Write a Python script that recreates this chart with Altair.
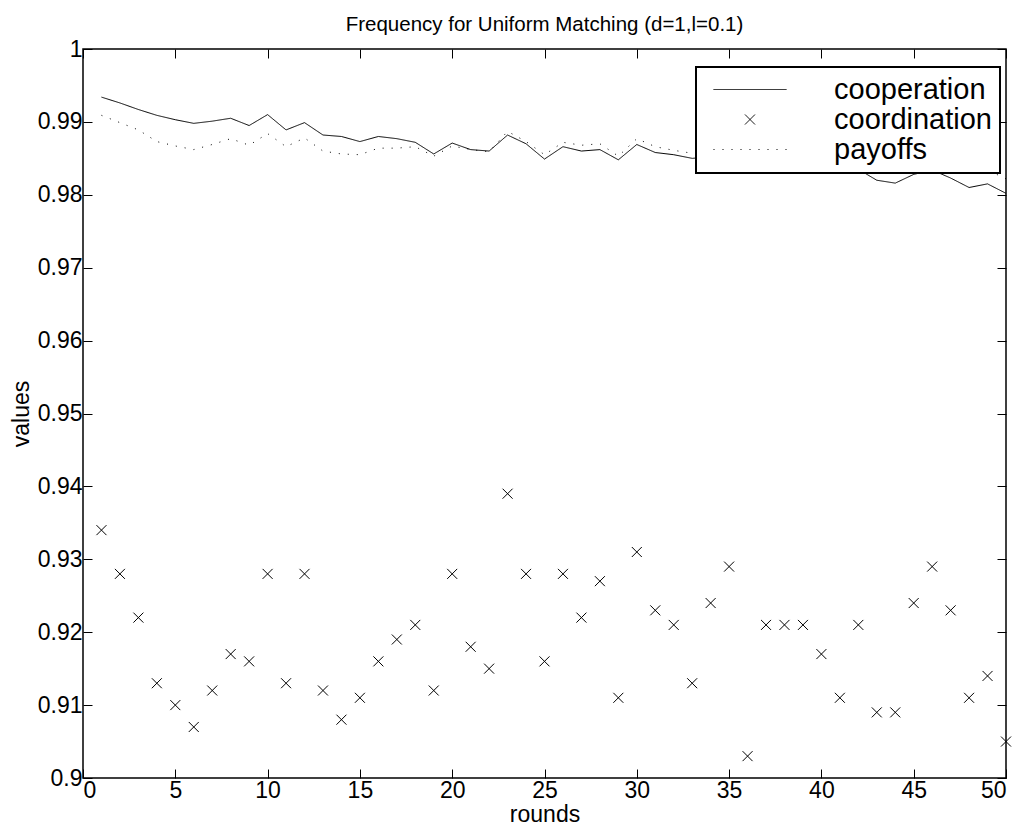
import altair as alt
import pandas as pd

rounds = list(range(1, 51))
cooperation = [
    0.9934, 0.9926, 0.9917, 0.9909, 0.9903, 0.9898, 0.9901, 0.9905, 0.9895, 0.9910,
    0.9889, 0.9899, 0.9882, 0.9880, 0.9873, 0.9880, 0.9877, 0.9872, 0.9856, 0.9871,
    0.9862, 0.9860, 0.9882, 0.9870, 0.9849, 0.9866, 0.9860, 0.9862, 0.9848, 0.9869,
    0.9858, 0.9855, 0.9850, 0.9852, 0.9848, 0.9850, 0.9844, 0.9846, 0.9840, 0.9842,
    0.9838, 0.9835, 0.9820, 0.9816, 0.9828, 0.9834, 0.9823, 0.9810, 0.9815, 0.9802,
]
coordination = [
    0.934, 0.928, 0.922, 0.913, 0.910, 0.907, 0.912, 0.917, 0.916, 0.928,
    0.913, 0.928, 0.912, 0.908, 0.911, 0.916, 0.919, 0.921, 0.912, 0.928,
    0.918, 0.915, 0.939, 0.928, 0.916, 0.928, 0.922, 0.927, 0.911, 0.931,
    0.923, 0.921, 0.913, 0.924, 0.929, 0.903, 0.921, 0.921, 0.921, 0.917,
    0.911, 0.921, 0.909, 0.909, 0.924, 0.929, 0.923, 0.911, 0.914, 0.905,
]
payoffs = [
    0.9909, 0.9899, 0.9889, 0.9873, 0.9867, 0.9862, 0.9869, 0.9877, 0.9868, 0.9884,
    0.9866, 0.9878, 0.9860, 0.9856, 0.9855, 0.9864, 0.9864, 0.9866, 0.9853, 0.9867,
    0.9862, 0.9859, 0.9887, 0.9873, 0.9855, 0.9872, 0.9868, 0.9870, 0.9853, 0.9877,
    0.9866, 0.9861, 0.9857, 0.9858, 0.9855, 0.9856, 0.9852, 0.9853, 0.9849, 0.9850,
    0.9843, 0.9840, 0.9832, 0.9833, 0.9838, 0.9840, 0.9837, 0.9832, 0.9834, 0.9822,
]
series_names = ["cooperation", "coordination", "payoffs"]
x_ticks = [0, 5, 10, 15, 20, 25, 30, 35, 40, 45, 50]
y_ticks = [0.9, 0.91, 0.92, 0.93, 0.94, 0.95, 0.96, 0.97, 0.98, 0.99, 1.0]

rows = []
for name, vals in zip(series_names, [cooperation, coordination, payoffs]):
    for r, v in zip(rounds, vals):
        rows.append({"round": r, "value": v, "series": name})
df = pd.DataFrame(rows)

FONT = "Liberation Sans"
X_PATH = "M-1,-1L1,1M-1,1L1,-1"
LINE_PATH = "M-7.3,0L7.3,0"

xscale = alt.Scale(domain=[0, 50], nice=False)
yscale = alt.Scale(domain=[0.9, 1.0], nice=False, zero=False)

axis_common = dict(
    tickSize=9, offset=-9, domain=False, grid=False, tickColor="black",
    tickWidth=1, labelFont=FONT, labelFontSize=23, labelColor="black",
    titleFont=FONT, titleFontSize=23, titleFontWeight="normal", titleColor="black",
)

legend = alt.Legend(
    orient="none", legendX=613, legendY=18, fillColor="white", strokeColor="black",
    padding=8, labelFont=FONT, labelFontSize=29, labelColor="black", labelLimit=400,
    labelOffset=69.5, symbolOffset=31.5, rowPadding=0,
    symbolStrokeColor="black", symbolStrokeWidth=1, symbolSize=100, title=None,
)

lines = alt.Chart(df).transform_filter(
    alt.FieldOneOfPredicate(field="series", oneOf=["cooperation", "payoffs"])
).mark_line(color="black", strokeWidth=1).encode(
    x=alt.X("round:Q", scale=xscale, title="rounds",
            axis=alt.Axis(orient="bottom", values=x_ticks, labelPadding=1, titlePadding=1, **axis_common)),
    y=alt.Y("value:Q", scale=yscale, title="values",
            axis=alt.Axis(orient="left", values=y_ticks, format=".2~f", labelPadding=1, titlePadding=4, **axis_common)),
    strokeDash=alt.StrokeDash("series:N", scale=alt.Scale(domain=series_names, range=[[1, 0], [1, 0], [1, 8]]), legend=legend),
    detail="series:N",
)

points = alt.Chart(df).transform_filter(
    alt.FieldEqualPredicate(field="series", equal="coordination")
).mark_point(color="black", filled=False, strokeWidth=1, size=100, opacity=1).encode(
    x=alt.X("round:Q", scale=xscale, axis=None),
    y=alt.Y("value:Q", scale=yscale, axis=None),
    shape=alt.Shape("series:N", scale=alt.Scale(domain=series_names, range=[LINE_PATH, X_PATH, LINE_PATH]), legend=legend),
)

mirror = alt.Chart(df).mark_point(opacity=0).encode(
    x=alt.X("round:Q", scale=xscale, title=None,
            axis=alt.Axis(orient="top", values=x_ticks, labels=False, **axis_common)),
    y=alt.Y("value:Q", scale=yscale, title=None,
            axis=alt.Axis(orient="right", values=y_ticks, labels=False, **axis_common)),
)

chart = alt.layer(lines, points, mirror).resolve_axis(
    x="independent", y="independent"
).properties(
    width=923, height=729,
    title=alt.TitleParams("Frequency for Uniform Matching (d=1,l=0.1)", font=FONT, fontSize=20.5,
                          fontWeight="normal", color="black", anchor="middle", frame="group", offset=3),
    autosize=alt.AutoSizeParams(type="none"),
    padding={"left": 75, "top": 41, "right": 12, "bottom": 48},
    background="white",
).configure_view(
    stroke="black", strokeWidth=1.5
).configure_legend(
    strokeWidth=2
)

chart.save("out.html", embed_options={"renderer": "svg", "actions": False})
